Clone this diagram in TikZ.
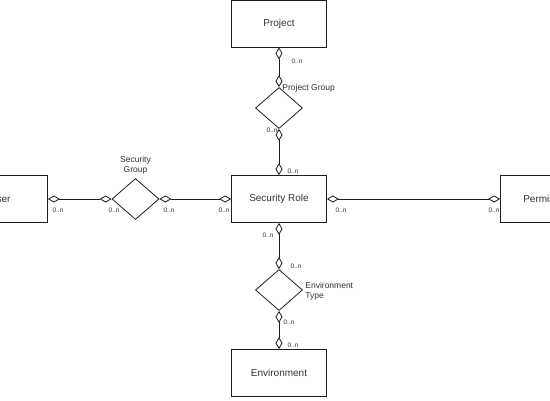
\documentclass[tikz,border=0pt]{standalone}
\usepackage{fontspec}
\setmainfont{Liberation Sans}
\usetikzlibrary{shapes.geometric,arrows.meta,calc,positioning}

\begin{document}
\begin{tikzpicture}[x=1pt, y=-1pt, line width=0.8pt]
		% Colores
		\definecolor{linecol}{RGB}{30, 30, 30}
		\definecolor{textcol}{RGB}{50, 50, 50}
		
		% --- Marco de la imagen ---
		\useasboundingbox (0,0) rectangle (550,400);
		\clip (0,0) rectangle (550,400);
		
		% --- Estilos ---
		\tikzset{
			entity/.style={draw=linecol, text=textcol, minimum width=95pt, minimum height=47pt, inner sep=0pt, font=\fontsize{10}{12}\selectfont},
			relation/.style={diamond, draw=linecol, minimum width=47pt, minimum height=41pt, inner sep=0pt},
			link/.style={draw=linecol, {Diamond[open,length=12pt,width=7pt]}-{Diamond[open,length=12pt,width=7pt]}},
			card/.style={text=textcol, font=\fontsize{6.5}{7}\selectfont, inner sep=0pt},
			rellabel/.style={text=textcol, font=\fontsize{8.5}{10}\selectfont, inner sep=0pt, align=center}
		}
		
		% --- Entidades ---
		\node[entity] (project) at (279, 23.5) {Project};
		\node[entity] (role) at (279, 199) {Security Role};
		\node[entity] (env) at (279, 373) {Environment};
		\node[entity] (user) at (0, 199) {User};
		\node[entity] (perm) at (548, 199) {Permission};
		
		% --- Relaciones ---
		\node[relation] (pgroup) at (279, 108) {};
		\node[relation] (sgroup) at (135.5, 199) {};
		\node[relation] (etype) at (279, 290) {};
		
		% --- Conectores ---
		\draw[link] (project.south) -- (pgroup.north);
		\draw[link] (pgroup.south) -- (role.north);
		\draw[link] (user.east) -- (sgroup.west);
		\draw[link] (sgroup.east) -- (role.west);
		\draw[link] (role.east) -- (perm.west);
		\draw[link] (role.south) -- (etype.north);
		\draw[link] (etype.south) -- (env.north);
		
		% --- Etiquetas de las relaciones ---
		\node[rellabel, anchor=west] (pglabel) at (282, 88) {Project Group};
		\node[rellabel] (sglabel) at (135.5, 165) {Security\\Group};
		\node[rellabel, anchor=west, align=left] (etlabel) at (305, 291) {Environment\\Type};
		
		% --- Cardinalidades ---
		\node[card] at (297, 61) {0..n};
		\node[card] at (272, 130) {0..n};
		\node[card] at (293, 171) {0..n};
		\node[card] at (58, 210) {0..n};
		\node[card] at (114, 210) {0..n};
		\node[card] at (169, 210) {0..n};
		\node[card] at (224, 210) {0..n};
		\node[card] at (341, 210) {0..n};
		\node[card] at (494, 210) {0..n};
		\node[card] at (268, 235) {0..n};
		\node[card] at (296, 266) {0..n};
		\node[card] at (289, 322) {0..n};
		\node[card] at (293, 345) {0..n};
		
	\end{tikzpicture}
\end{document}
